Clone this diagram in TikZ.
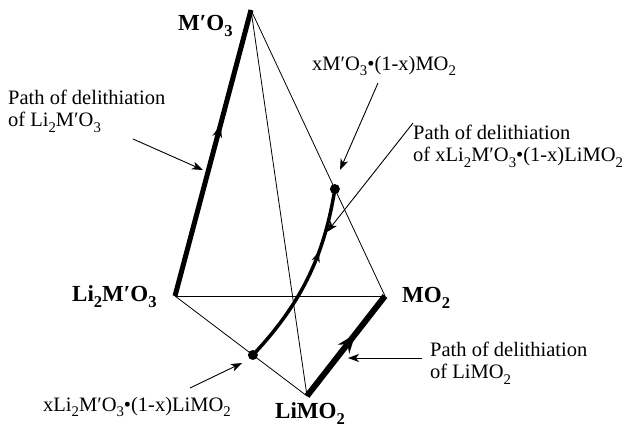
\documentclass[tikz,border=0pt]{standalone}
\usepackage{fontspec}
\setmainfont{Liberation Serif}
\usetikzlibrary{arrows.meta,calc,decorations.markings}
\newcommand{\mpr}{′}
\newcommand{\sbs}[1]{\raisebox{-0.28em}{\scalebox{0.72}{#1}}}
\tikzset{
  vlabel/.style={font=\fontsize{23}{23}\selectfont\bfseries, inner sep=0pt, anchor=base west},
  annot/.style={font=\fontsize{20.5}{22}\selectfont, inner sep=0pt, align=left},
  edge/.style={line width=0.8pt},
  delith/.style={line width=5pt},
  callout/.style={-{Stealth[length=11pt,width=8pt,inset=3pt]}, line width=0.9pt},
  midtip/.style 2 args={postaction={decorate}, decoration={markings,
    mark=at position #1 with {\arrow{Stealth[length=#2,width=0.75*#2]}}}},
  dot/.style={circle, fill=black, inner sep=0pt, minimum size=10pt},
}

\begin{document}
\begin{tikzpicture}[x=1pt, y=-1pt]
  \useasboundingbox (0,0) rectangle (629,431);
  % corners of the triangle and apex
  \coordinate (mo3) at (251,10);
  \coordinate (li2) at (175,296);
  \coordinate (mo2) at (385,296);
  \coordinate (limo2) at (307,396);
  % compositions on the edges
  \node[dot] (xb) at ($(li2)!0.59!(limo2)$) {};
  \node[dot] (xt) at ($(mo3)!0.626!(mo2)$) {};

  \draw[edge] (li2) -- (mo2);
  \draw[edge] (li2) -- (limo2);
  \draw[edge] (mo3) -- (mo2);
  \draw[edge] (mo3) -- (limo2);
  \draw[delith, midtip={0.6}{13pt}] (li2) -- (mo3);
  \draw[delith, line width=6pt, midtip={0.62}{19pt}] (limo2) -- (mo2);
  \draw[line width=3.5pt, midtip={0.66}{11pt}] (xb.center) .. controls (305,300) and (325,250) .. (xt.center);

  \node[vlabel] (lmo3) at (178,30) {M\mpr O\sbs{3}};
  \node[vlabel] (lli2) at (72,301) {Li\sbs{2}M\mpr O\sbs{3}};
  \node[vlabel] (lmo2) at (402,302) {MO\sbs{2}};
  \node[vlabel] (llimo2) at (275,418) {LiMO\sbs{2}};

  \node[annot, anchor=base west] (top) at (312,70) {xM\mpr O\sbs{3}\textbullet(1-x)MO\sbs{2}};
  \node[annot, anchor=north west] (pli2) at (8,90) {Path of delithiation\\ of Li\sbs{2}M\mpr O\sbs{3}};
  \node[annot, anchor=north west] (pmix) at (413,125) {Path of delithiation\\ of xLi\sbs{2}M\mpr O\sbs{3}\textbullet(1-x)LiMO\sbs{2}};
  \node[annot, anchor=north west] (plimo2) at (430,342) {Path of delithiation\\ of LiMO\sbs{2}};
  \node[annot, anchor=base west] (bot) at (43,411) {xLi\sbs{2}M\mpr O\sbs{3}\textbullet(1-x)LiMO\sbs{2}};

  \coordinate (c1a) at (133,139);  \coordinate (c1b) at (203,170);
  \coordinate (c2a) at (378,83);   \coordinate (c2b) at (340,170);
  \coordinate (c3a) at (413,123);  \coordinate (c3b) at (327,232);
  \coordinate (c4a) at (422,358);  \coordinate (c4b) at (348,358);
  \coordinate (c5a) at (190,388);  \coordinate (c5b) at (242,363);
  \draw[callout] (c1a) -- (c1b);
  \draw[callout] (c2a) -- (c2b);
  \draw[callout] (c3a) -- (c3b);
  \draw[callout] (c4a) -- (c4b);
  \draw[callout] (c5a) -- (c5b);
\end{tikzpicture}
\end{document}
